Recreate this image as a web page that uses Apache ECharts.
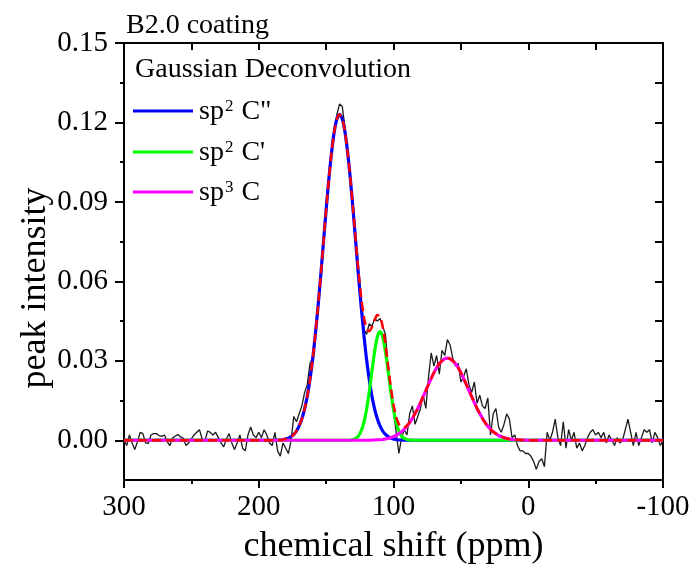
<!DOCTYPE html>
<html><head><meta charset="utf-8">
<script src="https://cdn.jsdelivr.net/npm/echarts@6/dist/echarts.min.js"></script>
<style>html,body{margin:0;padding:0;background:#fff}#c{width:694px;height:570px}</style>
</head><body><div id="c"></div>
<script>
// ---------- data ----------
const chartTitle = 'B2.0 coating';
const legendTitle = 'Gaussian Deconvolution';
const xTitle = 'chemical shift (ppm)';
const yTitle = 'peak intensity';

const xMajorTicks = [300, 200, 100, 0, -100];
const xMinorTicks = [250, 150, 50, -50];
const xTopTicks = [250, 200, 150, 100, 50, 0, -50];
const yMajorTicks = [0, 0.03, 0.06, 0.09, 0.12, 0.15];
const yMinorTicks = [0.015, 0.045, 0.075, 0.105, 0.135];
const yRightTicks = [0, 0.015, 0.03, 0.045, 0.06, 0.075, 0.09, 0.105, 0.12, 0.135];

// experimental spectrum
const expShift = [
300,298,296,294,292,290,288,286,284,282,
280,278,276,274,272,270,268,266,264,262,
260,258,256,254,252,250,248,246,244,242,
240,238,236,234,232,230,228,226,224,222,
220,218,216,214,212,210,208,206,204,202,
200,198,196,194,192,190,188,186,184,182,
180,178,176,174,172,170,168,166,164,162,
160,158,156,154,152,150,148,146,144,142,
140,138,136,134,132,130,128,126,124,122,
120,118,116,114,112,110,108,106,104,102,
100,98,96,94,92,90,88,86,84,82,
80,78,76,74,72,70,68,66,64,62,
60,58,56,54,52,50,48,46,44,42,
40,38,36,34,32,30,28,26,24,22,
20,18,16,14,12,10,8,6,4,2,
0,-2,-4,-6,-8,-10,-12,-14,-16,-18,
-20,-22,-24,-26,-28,-30,-32,-34,-36,-38,
-40,-42,-44,-46,-48,-50,-52,-54,-56,-58,
-60,-62,-64,-66,-68,-70,-72,-74,-76,-78,
-80,-82,-84,-86,-88,-90,-92,-94,-96,-98,
-100];
const expIntensity = [
0.0000,-0.0020,0.0020,-0.0010,-0.0035,-0.0005,0.0030,0.0025,-0.0010,-0.0012,
0.0020,0.0025,0.0025,0.0018,0.0015,0.0020,-0.0005,-0.0020,0.0008,0.0015,
0.0022,0.0012,0.0008,-0.0020,-0.0010,0.0005,0.0020,0.0030,0.0040,0.0005,
-0.0005,0.0035,0.0030,0.0020,0.0030,0.0010,-0.0010,-0.0025,0.0005,0.0025,
-0.0010,-0.0035,-0.0010,0.0020,-0.0030,-0.0040,0.0020,0.0050,0.0020,0.0010,
0.0030,0.0010,0.0040,0.0020,-0.0010,-0.0020,0.0030,-0.0040,-0.0060,-0.0010,
-0.0030,-0.0050,0.0000,0.0090,0.0070,0.0100,0.0130,0.0180,0.0210,0.0290,
0.0310,0.0400,0.0510,0.0620,0.0750,0.0870,0.0990,0.1090,0.1170,0.1230,
0.1270,0.1260,0.1180,0.1090,0.0990,0.0880,0.0760,0.0640,0.0530,0.0420,
0.0400,0.0440,0.0430,0.0460,0.0450,0.0460,0.0430,0.0400,0.0280,0.0200,
0.0110,0.0030,-0.0050,0.0010,0.0040,0.0020,0.0100,0.0130,0.0060,0.0090,
0.0120,0.0170,0.0120,0.0240,0.0330,0.0280,0.0320,0.0250,0.0340,0.0320,
0.0380,0.0360,0.0310,0.0280,0.0290,0.0220,0.0240,0.0270,0.0210,0.0180,
0.0220,0.0140,0.0170,0.0130,0.0120,0.0160,0.0020,0.0100,0.0120,0.0050,
0.0030,0.0060,0.0100,0.0080,0.0010,0.0020,-0.0020,-0.0040,-0.0040,-0.0050,
-0.0050,-0.0060,-0.0080,-0.0110,-0.0080,-0.0070,-0.0100,0.0030,0.0000,0.0030,
0.0080,0.0010,-0.0020,0.0070,-0.0030,0.0040,0.0000,0.0030,-0.0030,-0.0010,
-0.0040,-0.0020,0.0010,0.0030,0.0040,0.0020,0.0030,0.0010,0.0030,-0.0010,
0.0020,0.0000,-0.0020,0.0010,-0.0010,0.0000,0.0040,0.0080,0.0030,-0.0020,
0.0030,-0.0020,0.0010,0.0040,0.0030,0.0040,-0.0010,0.0030,0.0010,-0.0020,
0.0000];

// sp2 C'' fitted component
const blueShift = [300,
190,188,186,184,182,180,178,176,174,172,
170,168,166,164,162,160,158,156,154,152,
150,148,146,144,142,140,138,136,134,132,
130,128,126,124,122,120,118,116,114,112,
110,108,106,104,102,100,98,96,94,92,90,
-100];
const blueIntensity = [0,
0.0000,0.0000,0.0001,0.0001,0.0003,0.0005,0.0008,0.0014,0.0022,0.0035,
0.0054,0.0081,0.0118,0.0166,0.0229,0.0306,0.0400,0.0506,0.0622,0.0746,
0.0870,0.0985,0.1085,0.1164,0.1213,0.1230,0.1213,0.1164,0.1085,0.0985,
0.0870,0.0746,0.0622,0.0506,0.0400,0.0306,0.0229,0.0166,0.0118,0.0081,
0.0054,0.0035,0.0022,0.0014,0.0008,0.0005,0.0003,0.0001,0.0001,0.0000,0.0000,
0];

// sp2 C' fitted component
const greenShift = [300,
136,134,132,130,128,126,124,122,120,118,
116,114,112,110,108,106,104,102,100,98,
96,94,92,90,88,86,84,
-100];
const greenIntensity = [0,
0.0000,0.0000,0.0001,0.0003,0.0007,0.0016,0.0035,0.0067,0.0116,0.0183,
0.0261,0.0335,0.0390,0.0410,0.0390,0.0335,0.0261,0.0183,0.0116,0.0067,
0.0035,0.0016,0.0007,0.0003,0.0001,0.0000,0.0000,
0];

// sp3 C fitted component
const magentaShift = [300,
130,128,126,124,122,120,118,116,114,112,
110,108,106,104,102,100,98,96,94,92,
90,88,86,84,82,80,78,76,74,72,
70,68,66,64,62,60,58,56,54,52,
50,48,46,44,42,40,38,36,34,32,
30,28,26,24,22,20,18,16,14,12,
10,8,6,4,2,0,-2,-4,-6,-8,-10,
-100];
const magentaIntensity = [0,
0.0000,0.0000,0.0000,0.0000,0.0000,0.0000,0.0000,0.0001,0.0001,0.0002,
0.0002,0.0003,0.0005,0.0007,0.0010,0.0014,0.0018,0.0025,0.0032,0.0042,
0.0053,0.0067,0.0083,0.0101,0.0120,0.0142,0.0165,0.0188,0.0211,0.0234,
0.0255,0.0274,0.0289,0.0300,0.0308,0.0310,0.0308,0.0300,0.0289,0.0274,
0.0255,0.0234,0.0211,0.0188,0.0165,0.0142,0.0120,0.0101,0.0083,0.0067,
0.0053,0.0042,0.0032,0.0025,0.0018,0.0014,0.0010,0.0007,0.0005,0.0003,
0.0002,0.0002,0.0001,0.0001,0.0000,0.0000,0.0000,0.0000,0.0000,0.0000,0.0000,
0];

// cumulative fit (red dashed)
const sumShift = [300,
190,188,186,184,182,180,178,176,174,172,
170,168,166,164,162,160,158,156,154,152,
150,148,146,144,142,140,138,136,134,132,
130,128,126,124,122,120,118,116,114,112,
110,108,106,104,102,100,98,96,94,92,
90,88,86,84,82,80,78,76,74,72,
70,68,66,64,62,60,58,56,54,52,
50,48,46,44,42,40,38,36,34,32,
30,28,26,24,22,20,18,16,14,12,
10,8,6,4,2,0,-2,-4,-6,-8,-10,
-100];
const sumIntensity = [0,
0.0000,0.0000,0.0001,0.0001,0.0003,0.0005,0.0008,0.0014,0.0022,0.0035,
0.0054,0.0081,0.0118,0.0166,0.0229,0.0306,0.0400,0.0506,0.0622,0.0746,
0.0870,0.0985,0.1085,0.1164,0.1213,0.1230,0.1213,0.1164,0.1085,0.0986,
0.0873,0.0753,0.0638,0.0541,0.0467,0.0422,0.0412,0.0428,0.0454,0.0473,
0.0466,0.0428,0.0362,0.0282,0.0201,0.0135,0.0088,0.0061,0.0049,0.0049,
0.0056,0.0068,0.0083,0.0101,0.0120,0.0142,0.0165,0.0188,0.0211,0.0234,
0.0255,0.0274,0.0289,0.0300,0.0308,0.0310,0.0308,0.0300,0.0289,0.0274,
0.0255,0.0234,0.0211,0.0188,0.0165,0.0142,0.0120,0.0101,0.0083,0.0067,
0.0053,0.0042,0.0032,0.0025,0.0018,0.0014,0.0010,0.0007,0.0005,0.0003,
0.0002,0.0002,0.0001,0.0001,0.0000,0.0000,0.0000,0.0000,0.0000,0.0000,0.0000,
0];

const legendNames = ['sp{sup|2} C"', "sp{sup|2} C'", 'sp{sup|3} C'];
const colBlue = '#0000ff', colGreen = '#00ff00', colMagenta = '#ff00ff', colRed = '#ff0000', colExp = '#1a1a1a';

// ---------- chart ----------
const FONT = '"Liberation Serif","Times New Roman",serif';
const pairs = (xs, ys) => xs.map((x, i) => [x, ys[i]]);
const chart = echarts.init(document.getElementById('c'), null, {renderer: 'canvas'});

const axisBase = {type: 'value', splitLine: {show: false}, axisPointer: {show: false}};
const xRange = {min: -100, max: 300, inverse: true};
const yRange = {min: -0.015, max: 0.15};
const black = {color: '#000', width: 2};

const legendY = [111, 152, 192];
const legendCols = [colBlue, colGreen, colMagenta];
const graphics = [
  {type: 'text', x: 126, y: 26, style: {text: chartTitle, fontFamily: FONT, fontSize: 28, fill: '#000', verticalAlign: 'middle', align: 'left'}},
  {type: 'text', x: 135, y: 70, style: {text: legendTitle, fontFamily: FONT, fontSize: 28, fill: '#000', verticalAlign: 'middle', align: 'left'}},
  {type: 'text', x: 36, y: 288, rotation: Math.PI / 2, style: {text: yTitle, fontFamily: FONT, fontSize: 36, fill: '#000', verticalAlign: 'middle', align: 'center'}}
];
legendNames.forEach((n, i) => {
  graphics.push({type: 'line', shape: {x1: 133, y1: legendY[i], x2: 193, y2: legendY[i]}, style: {stroke: legendCols[i], lineWidth: 3}});
  graphics.push({type: 'text', x: 199, y: legendY[i] + 1, style: {
    text: n, fontFamily: FONT, fontSize: 28, fill: '#000', verticalAlign: 'middle', align: 'left',
    rich: {sup: {fontFamily: FONT, fontSize: 17, fill: '#000', verticalAlign: 'top', padding: [0, 1, 0, 1]}}
  }});
});

const option = {
  animation: false,
  backgroundColor: '#fff',
  grid: {left: 124, right: 31, top: 43, bottom: 85, containLabel: false},
  xAxis: [
    Object.assign({}, axisBase, xRange, {
      position: 'bottom', name: xTitle, nameLocation: 'middle', nameGap: 49,
      nameTextStyle: {fontFamily: FONT, fontSize: 36, color: '#000'},
      axisLine: {show: true, onZero: false, lineStyle: black},
      axisTick: {show: true, inside: false, length: 8, customValues: xMajorTicks, lineStyle: black},
      axisLabel: {show: true, customValues: xMajorTicks, margin: 13, fontFamily: FONT, fontSize: 29, color: '#000', formatter: v => String(v)}
    }),
    Object.assign({}, axisBase, xRange, {
      position: 'bottom', axisLine: {show: false, onZero: false},
      axisTick: {show: true, inside: false, length: 4, customValues: xMinorTicks, lineStyle: black},
      axisLabel: {show: false}
    }),
    Object.assign({}, axisBase, xRange, {
      position: 'top', axisLine: {show: true, onZero: false, lineStyle: black},
      axisTick: {show: true, inside: true, length: 7, customValues: xTopTicks, lineStyle: black},
      axisLabel: {show: false}
    })
  ],
  yAxis: [
    Object.assign({}, axisBase, yRange, {
      position: 'left', axisLine: {show: true, onZero: false, lineStyle: black},
      axisTick: {show: true, inside: false, length: 9, customValues: yMajorTicks, lineStyle: black},
      axisLabel: {show: true, customValues: yMajorTicks, margin: 16, fontFamily: FONT, fontSize: 29, color: '#000', formatter: v => v.toFixed(2)}
    }),
    Object.assign({}, axisBase, yRange, {
      position: 'left', axisLine: {show: false, onZero: false},
      axisTick: {show: true, inside: false, length: 4, customValues: yMinorTicks, lineStyle: black},
      axisLabel: {show: false}
    }),
    Object.assign({}, axisBase, yRange, {
      position: 'right', axisLine: {show: true, onZero: false, lineStyle: black},
      axisTick: {show: true, inside: true, length: 8, customValues: yRightTicks, lineStyle: black},
      axisLabel: {show: false}
    })
  ],
  series: [
    {name: 'experiment', type: 'line', data: pairs(expShift, expIntensity), showSymbol: false, symbol: 'none',
      lineStyle: {color: colExp, width: 1.3}, itemStyle: {color: colExp}, z: 2},
    {name: 'sp2 C\'\'', type: 'line', data: pairs(blueShift, blueIntensity), showSymbol: false, symbol: 'none', smooth: 0.3,
      lineStyle: {color: colBlue, width: 3.2}, itemStyle: {color: colBlue}, z: 3},
    {name: 'sp2 C\'', type: 'line', data: pairs(greenShift, greenIntensity), showSymbol: false, symbol: 'none', smooth: 0.3,
      lineStyle: {color: colGreen, width: 3.2}, itemStyle: {color: colGreen}, z: 4},
    {name: 'sp3 C', type: 'line', data: pairs(magentaShift, magentaIntensity), showSymbol: false, symbol: 'none', smooth: 0.3,
      lineStyle: {color: colMagenta, width: 3.2}, itemStyle: {color: colMagenta}, z: 5},
    {name: 'cumulative fit', type: 'line', data: pairs(sumShift, sumIntensity), showSymbol: false, symbol: 'none', smooth: 0.3,
      lineStyle: {color: colRed, width: 2.5, type: [9, 5]}, itemStyle: {color: colRed}, z: 6}
  ],
  graphic: graphics
};
chart.setOption(option);
</script>
</body></html>
